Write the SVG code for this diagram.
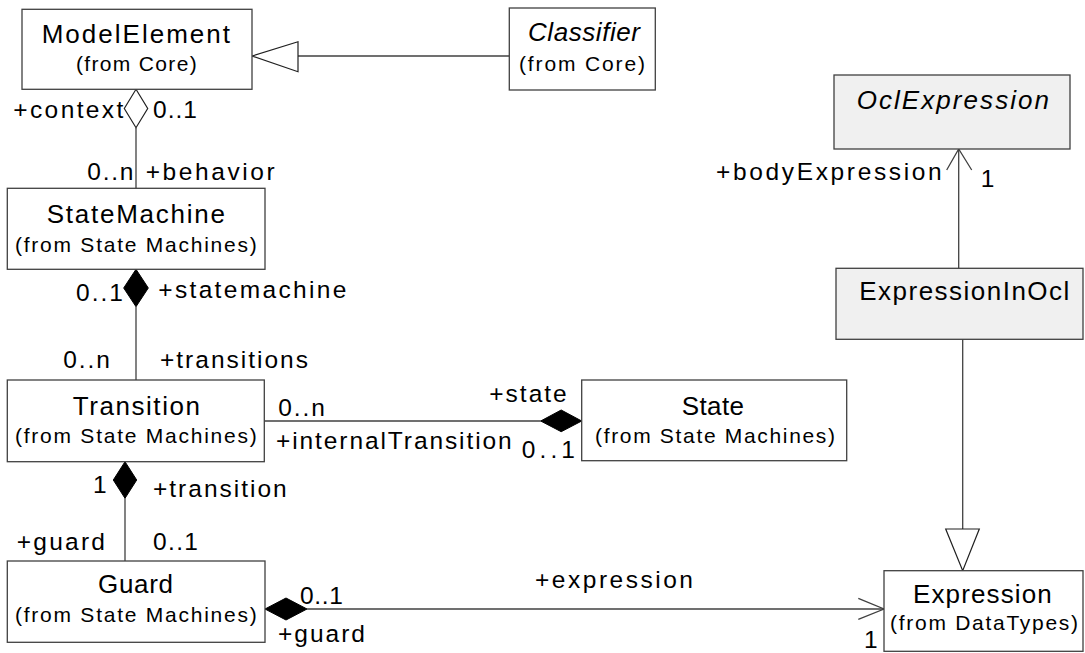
<svg xmlns="http://www.w3.org/2000/svg" width="1085" height="653" viewBox="0 0 1085 653">
<style>
.box{fill:#ffffff;stroke:#404040;stroke-width:1.3}
.gbox{fill:#f0f0f0;stroke:#404040;stroke-width:1.3}
.ln{fill:none;stroke:#404040;stroke-width:1.3}
.hol{fill:#ffffff;stroke:#202020;stroke-width:1.2}
.sol{fill:#000000;stroke:#000000;stroke-width:1}
text{font-family:"Liberation Sans",Arial,sans-serif;fill:#000000}
.nm{font-size:26px}
.it{font-size:26px;font-style:italic}
.fr{font-size:21px}
.lb{font-size:24.5px}
</style>
<rect width="1085" height="653" fill="#ffffff"/>
<g id="connectors">
  <line class="ln" x1="298" y1="56" x2="509" y2="56"/>
  <polygon class="hol" points="252,56 298,41.7 298,71.7"/>
  <line class="ln" x1="136" y1="127.7" x2="136" y2="188.3"/>
  <polygon class="hol" points="136,89.3 147.7,108.5 136,127.7 124.3,108.5"/>
  <line class="ln" x1="136" y1="306.7" x2="136" y2="380"/>
  <polygon class="sol" points="136,269.3 148.3,288 136,306.7 123.7,288"/>
  <line class="ln" x1="264" y1="421" x2="540.7" y2="421"/>
  <polygon class="sol" points="540.7,421 561.2,410 581.7,421 561.2,431.7"/>
  <line class="ln" x1="125" y1="498.3" x2="125" y2="561"/>
  <polygon class="sol" points="125,461.7 136.7,480 125,498.3 113.3,480"/>
  <line class="ln" x1="307" y1="609" x2="884" y2="609"/>
  <polygon class="sol" points="265,609 286,598 307,609 286,620"/>
  <polyline class="ln" points="858.3,598.3 884,609 858.3,619.3"/>
  <line class="ln" x1="958.7" y1="149" x2="958.7" y2="268.3"/>
  <polyline class="ln" points="946.7,170 958.7,149 971.7,170"/>
  <line class="ln" x1="962.7" y1="339.3" x2="962.7" y2="529"/>
  <polygon class="hol" points="945.7,529 979.3,529 962.7,570.7"/>
</g>
<g id="labels">
  <text class="lb" x="13.3" y="118" textLength="110">+context</text>
  <text class="lb" x="153" y="118" textLength="44">0..1</text>
  <text class="lb" x="87.3" y="180" textLength="46">0..n</text>
  <text class="lb" x="145.7" y="180" textLength="129">+behavior</text>
  <text class="lb" x="76" y="300.7" textLength="47">0..1</text>
  <text class="lb" x="158.3" y="298.3" textLength="188">+statemachine</text>
  <text class="lb" x="63.3" y="368.3" textLength="46.7">0..n</text>
  <text class="lb" x="160" y="368.3" textLength="148">+transitions</text>
  <text class="lb" x="278.3" y="416" textLength="46.7">0..n</text>
  <text class="lb" x="276" y="449.3" textLength="235.7">+internalTransition</text>
  <text class="lb" x="489.3" y="401.7" textLength="77.4">+state</text>
  <text class="lb" x="521.7" y="458.3" textLength="53.3">0..1</text>
  <text class="lb" x="93" y="493.3">1</text>
  <text class="lb" x="153" y="496.7" textLength="133.7">+transition</text>
  <text class="lb" x="16.7" y="550" textLength="88.3">+guard</text>
  <text class="lb" x="153" y="550" textLength="45">0..1</text>
  <text class="lb" x="300" y="604" textLength="43">0..1</text>
  <text class="lb" x="278" y="641.7" textLength="87">+guard</text>
  <text class="lb" x="535" y="588" textLength="158">+expression</text>
  <text class="lb" x="864" y="648">1</text>
  <text class="lb" x="716" y="180" textLength="225.7">+bodyExpression</text>
  <text class="lb" x="980.7" y="187">1</text>
</g>
<g id="ModelElement">
  <rect class="box" x="22" y="9.3" width="230" height="80"/>
  <text class="nm" x="41.7" y="42.7" textLength="188.3">ModelElement</text>
  <text class="fr" x="76" y="71" textLength="120.7">(from Core)</text>
</g>
<g id="Classifier">
  <rect class="box" x="509.3" y="8" width="146" height="82"/>
  <text class="it" x="528" y="41" textLength="112">Classifier</text>
  <text class="fr" x="519" y="71" textLength="126">(from Core)</text>
</g>
<g id="StateMachine">
  <rect class="box" x="7.3" y="188.3" width="257.7" height="81"/>
  <text class="nm" x="46.7" y="223.3" textLength="178.3">StateMachine</text>
  <text class="fr" x="15" y="251.5" textLength="241.7">(from State Machines)</text>
</g>
<g id="Transition">
  <rect class="box" x="7.3" y="380" width="257" height="81.7"/>
  <text class="nm" x="72.7" y="415" textLength="127.3">Transition</text>
  <text class="fr" x="15" y="443.3" textLength="241.7">(from State Machines)</text>
</g>
<g id="State">
  <rect class="box" x="581.7" y="380" width="265" height="80.7"/>
  <text class="nm" x="681.7" y="415" textLength="62.3">State</text>
  <text class="fr" x="595" y="443.3" textLength="240">(from State Machines)</text>
</g>
<g id="Guard">
  <rect class="box" x="7.3" y="561" width="257.7" height="81.3"/>
  <text class="nm" x="98" y="593.3" textLength="75">Guard</text>
  <text class="fr" x="15" y="621.7" textLength="241.7">(from State Machines)</text>
</g>
<g id="Expression">
  <rect class="box" x="884" y="570.7" width="199" height="80.6"/>
  <text class="nm" x="913" y="603" textLength="138.7">Expression</text>
  <text class="fr" x="890" y="630" textLength="188">(from DataTypes)</text>
</g>
<g id="OclExpression">
  <rect class="gbox" x="834" y="75" width="236" height="74"/>
  <text class="it" x="856.7" y="109.3" textLength="192.3">OclExpression</text>
</g>
<g id="ExpressionInOcl">
  <rect class="gbox" x="836" y="268.3" width="247" height="71"/>
  <text class="nm" x="859.3" y="300" textLength="210">ExpressionInOcl</text>
</g>
</svg>
